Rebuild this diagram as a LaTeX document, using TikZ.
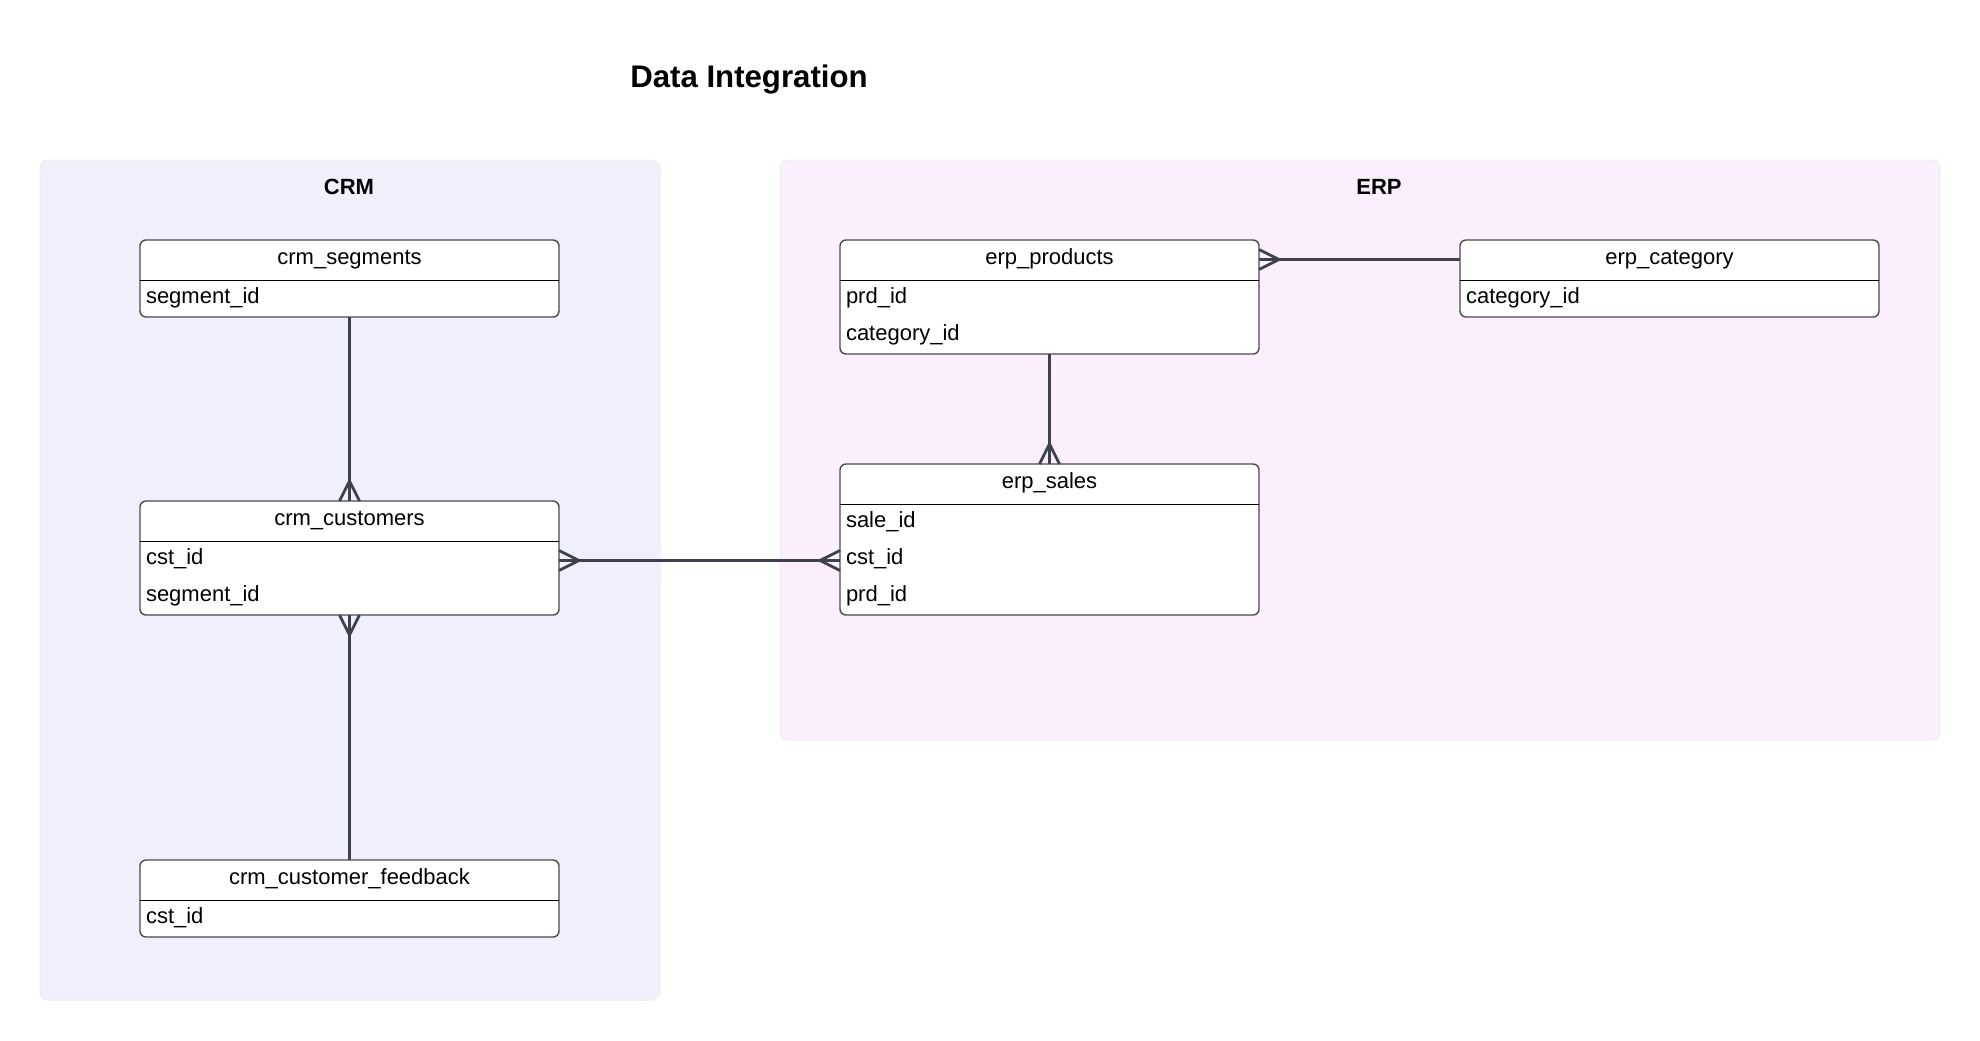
\documentclass[tikz,border=0pt]{standalone}
\usepackage{fontspec}
\setmainfont{Liberation Sans}
\usetikzlibrary{calc}
\definecolor{crmfill}{HTML}{F0F0FD}
\definecolor{erpfill}{HTML}{FBEEFD}
\definecolor{clborder}{HTML}{E3F5E3}
\definecolor{relcol}{HTML}{3D414D}
\definecolor{entborder}{HTML}{4A4A4A}
\newcommand\crowfoot[2]{%
  \coordinate (cfA) at ($(#1)!10pt!(#2)$);
  \draw[rel] ($(#1)!5pt!90:(#2)$) -- (cfA) -- ($(#1)!5pt!-90:(#2)$);
}
\begin{document}
\begin{tikzpicture}[x=0.5pt,y=-0.5pt,
  cluster/.style={draw=clborder, line width=0.5pt, rounded corners=4pt, inner sep=0pt, outer sep=0pt, anchor=north west},
  cltitle/.style={font=\bfseries\fontsize{11}{13}\selectfont, inner sep=0pt},
  entity/.style={draw=entborder, fill=white, rounded corners=3pt, line width=0.7pt, inner sep=0pt, outer sep=0pt, minimum width=209.5pt, anchor=north west},
  hdr/.style={inner sep=0pt, outer sep=0pt, minimum width=209.5pt, minimum height=20pt, anchor=north west, font=\fontsize{11}{13}\selectfont, text height=8pt, text depth=2.3pt},
  row/.style={inner xsep=3pt, inner ysep=0pt, outer sep=0pt, text width=203.5pt, minimum height=18.5pt, align=left, anchor=north west, font=\fontsize{11}{13}\selectfont, text height=8pt, text depth=2.3pt},
  hline/.style={draw=black, line width=0.55pt},
  rel/.style={draw=relcol, line width=1.4pt}
]
\useasboundingbox (0,0) rectangle (1980,1040);
\fill[white] (0,0) rectangle (1980,1040);

% title
\node[font=\bfseries\fontsize{15.6}{18}\selectfont, inner sep=0pt] (title) at (749,79.5) {Data Integration};

% clusters
\node[cluster, fill=crmfill, minimum width=310pt, minimum height=420pt] (crm) at (40,160) {};
\node[cluster, fill=erpfill, minimum width=580pt, minimum height=290pt] (erp) at (780,160) {};
\node[cltitle] (crmlabel) at (349,187) {CRM};
\node[cltitle] (erplabel) at (1379,187) {ERP};

% crm_segments
\node[entity, minimum height=38.5pt] (seg) at (140,240) {};
\node[hdr] (segh) at (140,238.5) {crm\_segments};
\draw[hline] (seg.north west) ++(0,40.5) -- ++(419,0);
\node[row] (segseg) at (140,279) {segment\_id};

% crm_customers
\node[entity, minimum height=57pt] (cust) at (140,501) {};
\node[hdr] (custh) at (140,499.5) {crm\_customers};
\draw[hline] (cust.north west) ++(0,40.5) -- ++(419,0);
\node[row] (custcst) at (140,540) {cst\_id};
\node[row] (custseg) at (140,577) {segment\_id};

% crm_customer_feedback
\node[entity, minimum height=38.5pt] (fb) at (140,860) {};
\node[hdr] (fbh) at (140,858.5) {crm\_customer\_feedback};
\draw[hline] (fb.north west) ++(0,40.5) -- ++(419,0);
\node[row] (fbcst) at (140,899) {cst\_id};

% erp_products
\node[entity, minimum height=57pt] (prod) at (840,240) {};
\node[hdr] (prodh) at (840,238.5) {erp\_products};
\draw[hline] (prod.north west) ++(0,40.5) -- ++(419,0);
\node[row] (prodprd) at (840,279) {prd\_id};
\node[row] (prodcat) at (840,316) {category\_id};

% erp_category
\node[entity, minimum height=38.5pt] (cat) at (1460,240) {};
\node[hdr] (cath) at (1460,238.5) {erp\_category};
\draw[hline] (cat.north west) ++(0,40.5) -- ++(419,0);
\node[row] (catcat) at (1460,279) {category\_id};

% erp_sales
\node[entity, minimum height=75.5pt] (sales) at (840,464) {};
\node[hdr] (salesh) at (840,462.5) {erp\_sales};
\draw[hline] (sales.north west) ++(0,40.5) -- ++(419,0);
\node[row] (salessale) at (840,503) {sale\_id};
\node[row] (salescst) at (840,540) {cst\_id};
\node[row] (salesprd) at (840,577) {prd\_id};

% relationships
\draw[rel] (seg.south) -- (cust.north);
\crowfoot{cust.north}{seg.south}

\draw[rel] (prod.south) -- (sales.north);
\crowfoot{sales.north}{prod.south}

\coordinate (pc1) at ($(cat.north west)+(0,19.5)$);
\coordinate (pc2) at ($(prod.north east)+(0,19.5)$);
\draw[rel] (pc1) -- (pc2);
\crowfoot{pc2}{pc1}

\coordinate (cs1) at ($(cust.north east)+(0,59.5)$);
\coordinate (cs2) at ($(sales.north west)+(0,96.5)$);
\draw[rel] (cs1) -- (cs2);
\crowfoot{cs1}{cs2}
\crowfoot{cs2}{cs1}

\draw[rel] (cust.south) -- (fb.north);
\crowfoot{cust.south}{fb.north}
\end{tikzpicture}
\end{document}
